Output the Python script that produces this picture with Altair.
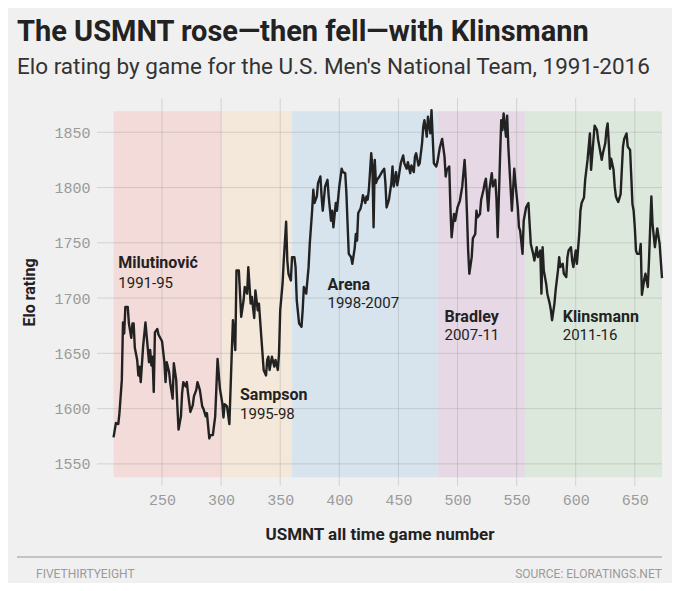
import altair as alt
import pandas as pd

# ---- data ----
game = [209, 211, 213, 214, 216, 217, 218, 219, 221, 222, 224, 225, 226, 227, 229, 230, 231, 232, 234, 236,
        237, 239, 240, 241, 242, 243, 244, 246, 247, 249, 250, 252, 253, 254, 256, 257, 259, 260, 262, 263,
        264, 266, 267, 268, 270, 271, 272, 274, 276, 277, 279, 280, 282, 284, 285, 287, 288, 290, 291, 293,
        295, 297, 299, 301, 302, 303, 305, 307, 309, 310, 312, 313, 315, 317, 319, 320, 322, 323, 325, 326,
        328, 329, 331, 332, 334, 336, 338, 339, 340, 341, 343, 345, 346, 348, 349, 350, 352, 353, 355, 356,
        357, 359, 360, 362, 363, 364, 366, 368, 369, 370, 372, 373, 374, 375, 377, 378, 379, 381, 382, 384,
        385, 386, 388, 390, 391, 393, 394, 395, 397, 398, 400, 402, 403, 405, 406, 407, 408, 410, 411, 413,
        414, 415, 416, 418, 419, 420, 422, 423, 424, 425, 427, 428, 429, 430, 431, 432, 434, 436, 438, 439,
        440, 442, 444, 445, 446, 448, 449, 450, 452, 454, 455, 457, 458, 460, 461, 463, 464, 465, 467, 468,
        470, 471, 472, 474, 475, 477, 478, 479, 480, 482, 483, 485, 487, 489, 490, 491, 493, 494, 495, 497,
        498, 500, 502, 504, 506, 507, 508, 509, 510, 512, 513, 515, 516, 517, 519, 520, 522, 523, 524, 526,
        527, 529, 530, 532, 533, 534, 536, 537, 538, 539, 541, 542, 543, 545, 546, 547, 548, 549, 551, 552,
        553, 555, 556, 558, 560, 561, 562, 564, 565, 567, 568, 570, 571, 572, 573, 575, 576, 578, 579, 580,
        582, 583, 585, 586, 587, 589, 590, 592, 593, 594, 596, 597, 598, 600, 601, 603, 604, 605, 607, 608,
        610, 611, 612, 613, 615, 616, 618, 619, 620, 622, 623, 625, 626, 627, 628, 629, 630, 632, 633, 634,
        635, 636, 638, 639, 640, 641, 643, 644, 646, 647, 648, 649, 650, 651, 652, 654, 655, 656, 658, 659,
        661, 662, 663, 664, 665, 667, 668, 669, 671, 673]
elo = [1574, 1587, 1586, 1596, 1626, 1678, 1668, 1692, 1692, 1677, 1664, 1677, 1677, 1655, 1644, 1630, 1638, 1624, 1656, 1678,
       1666, 1642, 1653, 1639, 1647, 1615, 1669, 1672, 1667, 1663, 1661, 1642, 1624, 1642, 1633, 1623, 1609, 1641, 1626, 1602,
       1581, 1593, 1614, 1624, 1620, 1624, 1614, 1597, 1603, 1611, 1617, 1624, 1617, 1602, 1600, 1593, 1596, 1573, 1576, 1576,
       1593, 1645, 1618, 1605, 1592, 1604, 1602, 1586, 1650, 1680, 1653, 1725, 1725, 1683, 1698, 1710, 1704, 1728, 1695, 1701,
       1682, 1707, 1689, 1695, 1665, 1635, 1630, 1644, 1647, 1635, 1647, 1638, 1644, 1635, 1650, 1689, 1713, 1734, 1769, 1734,
       1722, 1716, 1737, 1737, 1728, 1698, 1677, 1674, 1689, 1710, 1704, 1716, 1728, 1749, 1779, 1798, 1786, 1792, 1804, 1810,
       1792, 1779, 1801, 1807, 1792, 1770, 1779, 1764, 1786, 1779, 1801, 1817, 1814, 1813, 1795, 1767, 1740, 1737, 1731, 1745,
       1758, 1752, 1777, 1781, 1786, 1793, 1786, 1792, 1789, 1798, 1831, 1819, 1764, 1825, 1804, 1807, 1810, 1814, 1817, 1804,
       1782, 1789, 1804, 1819, 1801, 1814, 1802, 1808, 1822, 1829, 1822, 1817, 1823, 1813, 1820, 1814, 1828, 1831, 1820, 1822,
       1840, 1855, 1861, 1846, 1864, 1849, 1870, 1846, 1822, 1819, 1823, 1836, 1844, 1828, 1810, 1816, 1819, 1782, 1755, 1776,
       1770, 1782, 1788, 1801, 1825, 1807, 1776, 1743, 1722, 1737, 1754, 1758, 1779, 1773, 1776, 1789, 1798, 1804, 1808, 1779,
       1798, 1813, 1801, 1807, 1789, 1755, 1828, 1861, 1852, 1867, 1846, 1865, 1837, 1798, 1779, 1798, 1817, 1804, 1782, 1764,
       1761, 1740, 1770, 1782, 1786, 1767, 1749, 1740, 1734, 1746, 1737, 1743, 1704, 1746, 1725, 1713, 1704, 1695, 1689, 1680,
       1695, 1707, 1725, 1737, 1728, 1731, 1722, 1719, 1737, 1743, 1746, 1734, 1728, 1743, 1731, 1758, 1779, 1786, 1791, 1807,
       1825, 1837, 1849, 1816, 1843, 1856, 1852, 1843, 1837, 1825, 1831, 1840, 1852, 1858, 1840, 1817, 1826, 1816, 1801, 1792,
       1789, 1787, 1794, 1816, 1837, 1844, 1849, 1837, 1834, 1810, 1785, 1779, 1764, 1743, 1740, 1740, 1749, 1703, 1717, 1722,
       1710, 1734, 1764, 1792, 1767, 1746, 1755, 1763, 1749, 1718]

coach_names = ["Milutinović", "Sampson", "Arena", "Bradley", "Klinsmann"]
coach_years = ["1991-95", "1995-98", "1998-2007", "2007-11", "2011-16"]
coach_start = [209, 300, 360, 483, 557]
coach_end = [300, 360, 483, 557, 673]
band_colors = ["#f2dbd8", "#f3e8d9", "#d7e4ee", "#e6d8e4", "#dde8dc"]
label_game = [213, 316, 390, 489, 589]
name_elo = [1732, 1612, 1712, 1683, 1683]
year_elo = [1714, 1595, 1696, 1667, 1667]

x_ticks = [250, 300, 350, 400, 450, 500, 550, 600, 650]
y_ticks = [1550, 1600, 1650, 1700, 1750, 1800, 1850]

# ---- tables ----
line_df = pd.DataFrame({"game": game, "elo": elo})
band_df = pd.DataFrame({"coach": coach_names, "start": coach_start, "end": coach_end})
label_df = pd.DataFrame({"coach": coach_names, "years": coach_years, "g": label_game,
                         "ny": name_elo, "yy": year_elo})
xt_df = pd.DataFrame({"t": x_ticks})
yt_df = pd.DataFrame({"t": y_ticks})

xscale = alt.Scale(domain=[195, 673], nice=False, zero=False)
yscale = alt.Scale(domain=[1530, 1881], nice=False, zero=False)

FONT = "Roboto"
MONO = "Liberation Mono"

xaxis = alt.Axis(values=x_ticks, format="d", grid=False, domain=False, ticks=False,
                 labelFont=MONO, labelFontSize=15, labelColor="#9a9a9a", labelPadding=6,
                 title="USMNT all time game number", titleFont=FONT, titleFontSize=17,
                 titleFontWeight="bold", titleColor="#222222", titlePadding=19)
yaxis = alt.Axis(values=y_ticks, format="d", grid=False, domain=False, ticks=False,
                 labelFont=MONO, labelFontSize=15, labelColor="#9a9a9a", labelPadding=7,
                 title="Elo rating", titleFont=FONT, titleFontSize=16,
                 titleFontWeight="bold", titleColor="#222222", titlePadding=16)

bands = alt.Chart(band_df).mark_rect().encode(
    x=alt.X("start:Q", scale=xscale, axis=xaxis),
    x2="end:Q",
    y=alt.datum(1869, scale=yscale, axis=yaxis),
    y2=alt.datum(1538),
    color=alt.Color("coach:N", scale=alt.Scale(domain=coach_names, range=band_colors), legend=None),
)

vgrid = alt.Chart(xt_df).mark_rule(color="#9a9a9a", opacity=0.35, strokeWidth=1).encode(
    x=alt.X("t:Q", scale=xscale, axis=xaxis)
)
hgrid = alt.Chart(yt_df).mark_rule(color="#9a9a9a", opacity=0.35, strokeWidth=1).encode(
    y=alt.Y("t:Q", scale=yscale, axis=yaxis)
)

line = alt.Chart(line_df).mark_line(color="#222222", strokeWidth=2.4, strokeJoin="round").encode(
    x=alt.X("game:Q", scale=xscale, axis=xaxis),
    y=alt.Y("elo:Q", scale=yscale, axis=yaxis),
)

names = alt.Chart(label_df).mark_text(align="left", baseline="middle", font=FONT, fontSize=16,
                                      fontWeight="bold", color="#222222").encode(
    x=alt.X("g:Q", scale=xscale, axis=xaxis), y=alt.Y("ny:Q", scale=yscale, axis=yaxis), text="coach:N")
years = alt.Chart(label_df).mark_text(align="left", baseline="middle", font=FONT, fontSize=15,
                                      color="#222222").encode(
    x=alt.X("g:Q", scale=xscale, axis=xaxis), y=alt.Y("yy:Q", scale=yscale, axis=yaxis), text="years:N")

foot_rule = alt.Chart(pd.DataFrame({"k": [0]})).mark_rule(color="#b5b5b5", strokeWidth=1.5).encode(
    x=alt.value(-80), x2=alt.value(565), y=alt.value(459))
foot_left = alt.Chart(pd.DataFrame({"txt": ["FIVETHIRTYEIGHT"]})).mark_text(
    align="left", baseline="middle", font=FONT, fontSize=12, color="#9a9a9a").encode(
    x=alt.value(-61), y=alt.value(476), text="txt:N")
foot_right = alt.Chart(pd.DataFrame({"txt": ["SOURCE: ELORATINGS.NET"]})).mark_text(
    align="right", baseline="middle", font=FONT, fontSize=12, color="#9a9a9a").encode(
    x=alt.value(565), y=alt.value(476), text="txt:N")

chart = alt.layer(bands, vgrid, hgrid, line, names, years, foot_rule, foot_left, foot_right).properties(
    width=565, height=388,
    padding={"left": 89, "top": 90, "right": 10, "bottom": 97},
    autosize=alt.AutoSizeParams(type="none"),
    title=alt.Title("The USMNT rose—then fell—with Klinsmann",
                    subtitle="Elo rating by game for the U.S. Men's National Team, 1991-2016",
                    anchor="start", frame="group", dx=-80, offset=19,
                    font=FONT, fontSize=29, fontWeight="bold", color="#222222",
                    subtitleFont=FONT, subtitleFontSize=22.5, subtitleColor="#333333",
                    subtitlePadding=9),
).configure(background="#f0f0f0").configure_view(stroke=None)

chart.save("out.html", embed_options={"renderer": "svg", "actions": False})
